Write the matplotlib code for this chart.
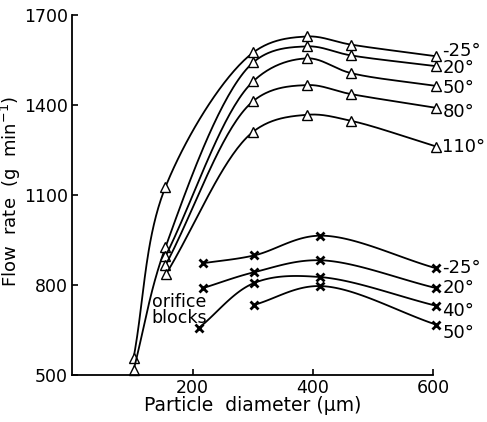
import numpy as np
import matplotlib
matplotlib.use("Agg")
import matplotlib.pyplot as plt

# upper family (triangles), temperature labels
tri_labels = ["-25°", "20°", "50°", "80°", "110°"]
tri_x = [
    [102, 155, 301, 390, 463, 605],
    [102, 155, 301, 390, 463, 605],
    [155, 301, 390, 463, 605],
    [155, 301, 390, 463, 605],
    [156, 301, 390, 463, 605],
]
tri_y = [
    [556, 1127, 1576, 1629, 1602, 1563],
    [516, 926, 1543, 1596, 1566, 1530],
    [896, 1480, 1556, 1507, 1464],
    [866, 1414, 1467, 1437, 1391],
    [837, 1312, 1368, 1348, 1262],
]

# lower family (crosses)
crs_labels = ["-25°", "20°", "40°", "50°"]
crs_x = [
    [217, 302, 412, 605],
    [217, 302, 412, 605],
    [211, 302, 412, 605],
    [302, 412, 605],
]
crs_y = [
    [873, 899, 965, 856],
    [790, 843, 883, 790],
    [658, 807, 827, 731],
    [734, 797, 668],
]

SX, SY = 0.605, 0.303  # rough pixel scale of the axes, for the smoothing


def smooth(x, y, n=40):
    # centripetal catmull-rom through the points, only for drawing the line
    P = np.column_stack([np.asarray(x, float) * SX, np.asarray(y, float) * SY])
    P = np.vstack([2 * P[0] - P[1], P, 2 * P[-1] - P[-2]])
    out = []
    for i in range(1, len(P) - 2):
        p0, p1, p2, p3 = P[i - 1], P[i], P[i + 1], P[i + 2]
        t0 = 0.0
        t1 = t0 + np.linalg.norm(p1 - p0) ** 0.5
        t2 = t1 + np.linalg.norm(p2 - p1) ** 0.5
        t3 = t2 + np.linalg.norm(p3 - p2) ** 0.5
        t = np.linspace(t1, t2, n)[:, None]
        a1 = (t1 - t) / (t1 - t0) * p0 + (t - t0) / (t1 - t0) * p1
        a2 = (t2 - t) / (t2 - t1) * p1 + (t - t1) / (t2 - t1) * p2
        a3 = (t3 - t) / (t3 - t2) * p2 + (t - t2) / (t3 - t2) * p3
        b1 = (t2 - t) / (t2 - t0) * a1 + (t - t0) / (t2 - t0) * a2
        b2 = (t3 - t) / (t3 - t1) * a2 + (t - t1) / (t3 - t1) * a3
        out.append((t2 - t) / (t2 - t1) * b1 + (t - t1) / (t2 - t1) * b2)
    c = np.vstack(out)
    return c[:, 0] / SX, c[:, 1] / SY


fig = plt.figure(figsize=(4.87, 4.22), dpi=100)
ax = fig.add_axes([0.148, 0.111, 0.742, 0.853])

for xs, ys in zip(tri_x, tri_y):
    sx, sy = smooth(xs, ys)
    ax.plot(sx, sy, color="black", lw=1.3, clip_on=False)
    ax.plot(xs, ys, ls="none", marker="^", ms=6.5, mfc="white",
            mec="black", mew=1.0, clip_on=False)

for xs, ys in zip(crs_x, crs_y):
    sx, sy = smooth(xs, ys)
    ax.plot(sx, sy, color="black", lw=1.3, clip_on=False)
    ax.plot(xs, ys, ls="none", marker="x", ms=6, mec="black",
            mew=2.0, clip_on=False)

# right-hand labels
tri_lab_y = [1582, 1523, 1457, 1378, 1262]
for lab, yy in zip(tri_labels, tri_lab_y):
    ax.text(615, yy, lab, fontsize=13, ha="left", va="center", clip_on=False)
crs_lab_y = [856, 790, 714, 642]
for lab, yy in zip(crs_labels, crs_lab_y):
    ax.text(615, yy, lab, fontsize=13, ha="left", va="center", clip_on=False)

ax.text(178, 718, "orifice\nblocks", fontsize=12.5, ha="center", va="center",
        linespacing=0.85)

ax.set_xlim(0, 600)
ax.set_ylim(500, 1700)
ax.set_xticks([200, 400, 600])
ax.set_yticks([500, 800, 1100, 1400, 1700])
ax.tick_params(direction="in", length=4, width=1.2, labelsize=12.5, pad=3)
for s in ["top", "right"]:
    ax.spines[s].set_visible(False)
for s in ["left", "bottom"]:
    ax.spines[s].set_linewidth(1.3)

ax.set_xlabel("Particle  diameter (μm)", fontsize=13.5, labelpad=-1)
ax.set_ylabel("Flow  rate  (g  min$^{-1}$)", fontsize=13)
ax.yaxis.set_label_coords(-0.137, 0.51)

fig.savefig("out.png", dpi=100)
